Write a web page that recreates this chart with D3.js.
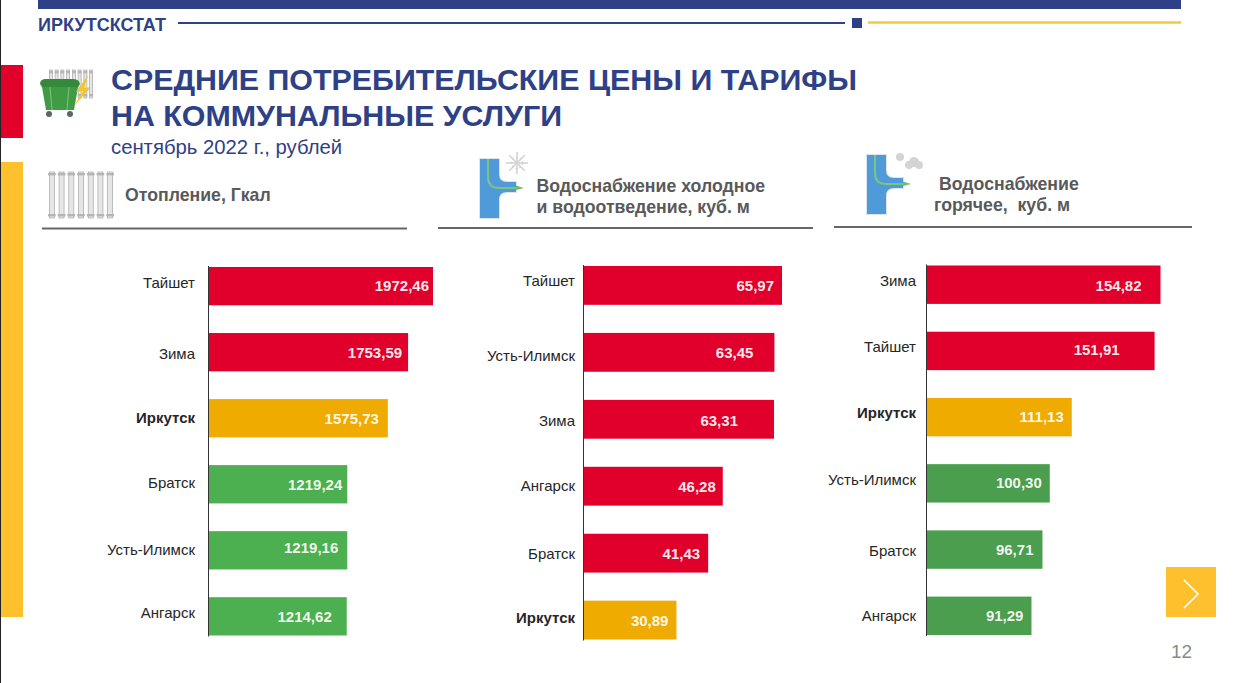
<!DOCTYPE html>
<html><head><meta charset="utf-8">
<script src="https://cdn.jsdelivr.net/npm/d3@7/dist/d3.min.js"></script>
<style>html,body{margin:0;padding:0;background:#fff;overflow:hidden}svg{display:block}text{font-family:"Liberation Sans",Arial,sans-serif;white-space:pre}</style>
</head><body><svg id="c" width="1260" height="683"></svg>
<script>
const heatCities=["Тайшет","Зима","Иркутск","Братск","Усть-Илимск","Ангарск"];
const heatValues=[1972.46,1753.59,1575.73,1219.24,1219.16,1214.62];
const coldCities=["Тайшет","Усть-Илимск","Зима","Ангарск","Братск","Иркутск"];
const coldValues=[65.97,63.45,63.31,46.28,41.43,30.89];
const hotCities=["Зима","Тайшет","Иркутск","Усть-Илимск","Братск","Ангарск"];
const hotValues=[154.82,151.91,111.13,100.30,96.71,91.29];
const heatTones=["red","red","amber","green","green","green"];
const coldTones=["red","red","red","red","red","amber"];
const hotTones=["red","red","amber","darkgreen","darkgreen","darkgreen"];
const palette={red:"#E0002B",amber:"#F0AB00",green:"#4CAF50",darkgreen:"#4A9E4E"};
const fmt=v=>v.toFixed(2).replace(".",",");
const svg=d3.select("#c");
const navy="#2F4186";
const rect=(x,y,w,h,f)=>svg.append("rect").attr("x",x).attr("y",y).attr("width",w).attr("height",h).attr("fill",f);
const line=(x1,y1,x2,y2,s,w)=>svg.append("line").attr("x1",x1).attr("y1",y1).attr("x2",x2).attr("y2",y2).attr("stroke",s).attr("stroke-width",w);
const text=(x,y,t,size,f,weight)=>svg.append("text").attr("x",x).attr("y",y).attr("font-size",size).attr("fill",f).attr("font-weight",weight||400).text(t);

// frame
rect(0,0,1,683,"#222");
rect(38,0,1143,9,navy);
text(38,31,"ИРКУТСКСТАТ",18,navy,700).attr("textLength",128).attr("lengthAdjust","spacingAndGlyphs");
line(178,23,845,23,navy,2);
rect(852,18,10,10,navy);
line(868,22.5,1181,22.5,"#F5C842",2.4);
rect(1,65,22,73,"#E2002B");
rect(1,162,22,455,"#FFC02E");
rect(1166,567,50,50,"#FFC02E");
svg.append("path").attr("d","M1184 580L1198 594L1184 608").attr("fill","none").attr("stroke","#fff").attr("stroke-width",1.6);
text(1171,658,"12",19,"#8a8a8a");

// title
text(111,90,"СРЕДНИЕ ПОТРЕБИТЕЛЬСКИЕ ЦЕНЫ И ТАРИФЫ",30,navy,700).attr("textLength",746).attr("lengthAdjust","spacingAndGlyphs");
text(111,126,"НА КОММУНАЛЬНЫЕ УСЛУГИ",30,navy,700).attr("textLength",451).attr("lengthAdjust","spacingAndGlyphs");
text(111,154,"сентябрь 2022 г., рублей",20.3,navy);

// icons
function radiator(x,y,w,h,n,sw){const g=svg.append("g");const step=w/n;
 d3.range(n).forEach(i=>{
  g.append("rect").attr("x",x+i*step+step/2-sw/2).attr("y",y).attr("width",sw).attr("height",h).attr("fill","#e6e6e6").attr("stroke","#a6a6a6").attr("stroke-width",.7);
  g.append("rect").attr("x",x+i*step+1).attr("y",y+1).attr("width",step-2).attr("height",2.4).attr("fill","#b5b5b5");
  g.append("rect").attr("x",x+i*step+1).attr("y",y+h-4).attr("width",step-2).attr("height",2.4).attr("fill","#b5b5b5");
 });}
radiator(47,172,68,46,7,5);
radiator(48,70,46,28,8,3);
// bin
svg.append("path").attr("d","M42 87L78 87L74 110L46 110Z").attr("fill","#3F9C45");
svg.append("path").attr("d","M40 84Q40 79 46 79L73 79Q79 79 80 84L78 87L42 87Z").attr("fill","#348A3A");
svg.append("path").attr("d","M50 87L52 110M69 87L67 110").attr("stroke","#9CD09F").attr("stroke-width",.7).attr("fill","none");
svg.append("circle").attr("cx",49).attr("cy",114).attr("r",3).attr("fill","#5a6a60");
svg.append("circle").attr("cx",70).attr("cy",114).attr("r",3).attr("fill","#5a6a60");
svg.append("path").attr("d","M88 75L76 92L83 91L74 106L91 87L84 88Z").attr("fill","#F4C430");
function pipe(x,y){const g=svg.append("g");
 g.append("path").attr("d",`M${x} ${y}H${x+19}V${y+15}Q${x+19} ${y+23} ${x+27} ${y+23}H${x+36}V${y+33}H${x+27}Q${x+19} ${y+33} ${x+19} ${y+41}V${y+59}H${x}Z`).attr("fill","#4F9BD9").attr("stroke","#dfe4e8").attr("stroke-width",2).attr("paint-order","stroke");
 g.append("path").attr("d",`M${x+8} ${y}V${y+18}Q${x+8} ${y+29} ${x+19} ${y+29}H${x+37}`).attr("fill","none").attr("stroke","#7CC47F").attr("stroke-width",2);
 g.append("path").attr("d",`M${x+36} ${y+26.5}L${x+44} ${y+29}L${x+36} ${y+31}Z`).attr("fill","#6CBF6E");}
pipe(480,159);pipe(867,155);
// snowflake
const sf=svg.append("g").attr("stroke","#d4d4d4").attr("stroke-width",1.6);
d3.range(4).forEach(i=>{const a=i*Math.PI/4;sf.append("line").attr("x1",517+11*Math.cos(a)).attr("y1",163+11*Math.sin(a)).attr("x2",517-11*Math.cos(a)).attr("y2",163-11*Math.sin(a));});
svg.append("circle").attr("cx",517).attr("cy",163).attr("r",5.5).attr("fill","none").attr("stroke","#d4d4d4").attr("stroke-width",1.4).attr("stroke-dasharray","2 2");
// steam
[[900,157,4],[909,165,4],[914,162,5],[919,165,4]].forEach(d=>svg.append("circle").attr("cx",d[0]).attr("cy",d[1]).attr("r",d[2]).attr("fill","#d4d4d4"));

// panel headers
const grey="#595959";
text(125,201,"Отопление, Гкал",17.7,grey,700);
text(536.5,192,"Водоснабжение холодное",17.7,grey,700);
text(536.5,213,"и водоотведение, куб. м",17.7,grey,700);
text(939,190,"Водоснабжение",17.7,grey,700);
text(934,211,"горячее,  куб. м",17.7,grey,700);
line(42,228.5,407,228.5,"#666",2);
line(438,228,813,228,"#666",2);
line(834,227,1192,227,"#666",2);

// hand-placed label nudges of the original slide (layout, not data)
const layouts={
 heat:{inset:[4,6,9,5,9,15],labelDy:[-3.5,1.5,0,-1,-.5,-3],valueDy:[0,.5,0,0,-3,0]},
 cold:{inset:[8,21,36,7,8,8],labelDy:[-4.5,3.5,2,0,1,-2],valueDy:[.5,.5,1,0,1,1]},
 hot:{inset:[19,35,8,8,9,8],labelDy:[-4,-3.5,-4,-3,1,0],valueDy:[1,-1.5,0,-1,0,0]}
};
function panel(cfg){
 const {cities,values,tones,x0,domain,range,top,bottom,layout,labelRight}=cfg;
 const x=d3.scaleLinear().domain(domain).range([x0,x0+range]);
 const y=d3.scaleBand().domain(cities).range([top,bottom]).paddingInner(0.42).paddingOuter(0);
 const g=svg.append("g");
 g.selectAll("rect").data(cities).join("rect")
  .attr("x",x0).attr("y",c=>y(c)).attr("height",y.bandwidth())
  .attr("width",(c,i)=>x(values[i])-x0).attr("fill",(c,i)=>palette[tones[i]]);
 g.selectAll("text.v").data(cities).join("text").attr("class","v")
  .attr("x",(c,i)=>x(values[i])-layout.inset[i]).attr("y",(c,i)=>y(c)+y.bandwidth()/2+5.3+layout.valueDy[i])
  .attr("text-anchor","end").attr("font-size",15).attr("font-weight",700).attr("fill","#fff").attr("fill-opacity",.93)
  .text((c,i)=>fmt(values[i]));
 g.selectAll("text.c").data(cities).join("text").attr("class","c")
  .attr("x",labelRight).attr("y",(c,i)=>y(c)+y.bandwidth()/2+5+layout.labelDy[i])
  .attr("text-anchor","end").attr("font-size",15).attr("fill","#262626")
  .attr("font-weight",c=>c==="Иркутск"?700:400).text(c=>c);
 line(x0,top-1,x0,bottom+1,"#333",1);
}
panel({cities:heatCities,values:heatValues,tones:heatTones,x0:208.5,domain:[0,1972.46],range:224.5,top:267,bottom:635.5,layout:layouts.heat,labelRight:195});
panel({cities:coldCities,values:coldValues,tones:coldTones,x0:583.5,domain:[0,65.97],range:198.5,top:266,bottom:639.5,layout:layouts.cold,labelRight:575});
panel({cities:hotCities,values:hotValues,tones:hotTones,x0:926.5,domain:[39.6,154.82],range:234,top:265.5,bottom:635,layout:layouts.hot,labelRight:916});
</script></body></html>
